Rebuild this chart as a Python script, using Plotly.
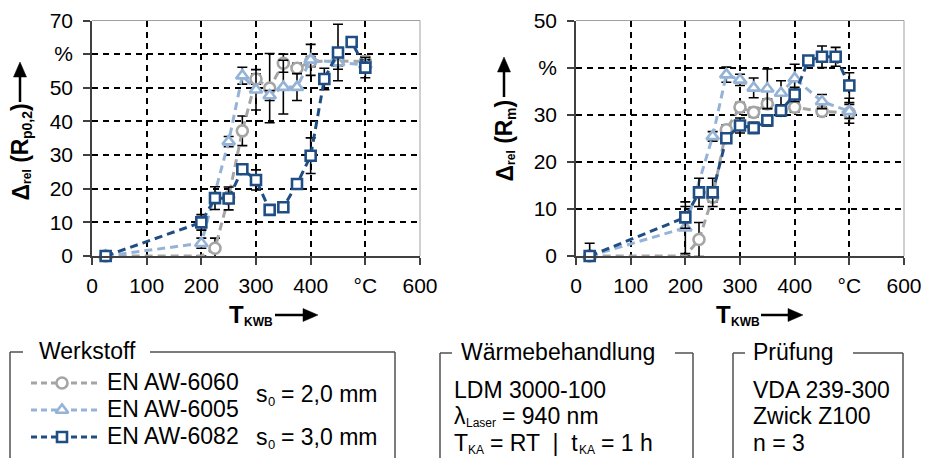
import plotly.graph_objects as go

# ---------------- data ----------------
T_6060 = [25, 200, 225, 250, 275, 300, 325, 350, 375, 400, 450, 500]
T_6005 = [25, 200, 250, 275, 300, 325, 350, 375, 400, 450, 500]
T_6082 = [25, 200, 225, 250, 275, 300, 325, 350, 375, 400, 425, 450, 475, 500]

rp_6060 = [0, 0, 2.3, 17.5, 37.2, 52.6, 49.9, 57.3, 55.8, 57.8, 58.0, 57.8]
rp_6005 = [0, 3.8, 34.0, 53.6, 49.4, 47.7, 50.2, 50.2, 58.3, 57.5, 56.8]
rp_6082 = [0, 10.0, 17.2, 17.1, 25.8, 22.6, 13.7, 14.5, 21.4, 29.8, 52.6, 60.5, 63.6, 56.0]
rp_6060_err = [0, 0, 3, 0, 4.4, 1.5, 10.3, 2.7, 1.5, 1.5, 1.5, 1.5]
rp_6005_err = [0, 1.5, 1.5, 2.5, 6, 1.5, 8, 4, 4.6, 2, 1.5]
rp_6082_err = [0, 2.3, 3.4, 3.4, 1.2, 3, 1, 1, 1, 5.3, 3.2, 8.4, 1.5, 3]

rm_6060 = [0, 0, 3.5, 12.5, 26.8, 31.6, 30.5, 32.3, 30.9, 31.6, 30.7, 30.4]
rm_6005 = [0, 6.0, 25.4, 38.5, 37.4, 35.7, 35.5, 34.6, 37.7, 32.8, 30.7]
rm_6082 = [0, 8.2, 13.5, 13.5, 25.0, 27.7, 27.2, 28.8, 30.9, 34.3, 41.5, 42.3, 42.3, 36.2]
rm_6060_err = [0, 0, 3.6, 1, 1, 1, 1, 1, 1, 1, 1, 2.2]
rm_6005_err = [0, 5.5, 1, 1.6, 1.2, 2.1, 4.2, 2.6, 3, 1.5, 1.5]
rm_6082_err = [2.7, 2.3, 3, 3, 1, 1.6, 1.2, 1.2, 1.2, 1.5, 1, 2.3, 2, 2.7]

# marker visibility for 6060 (point at 200 °C drawn without marker)
vis_6060 = [1, 0, 1, 1, 1, 1, 1, 1, 1, 1, 1, 1]

x_ticks = [0, 100, 200, 300, 400, 500, 600]
x_ticktext = ["0", "100", "200", "300", "400", "°C", "600"]
yL_ticks = [0, 10, 20, 30, 40, 50, 60, 70]
yL_ticktext = ["0", "10", "20", "30", "40", "50", "%", "70"]
yR_ticks = [0, 10, 20, 30, 40, 50]
yR_ticktext = ["0", "10", "20", "30", "%", "50"]

names = ["EN AW-6060", "EN AW-6005", "EN AW-6082"]
colors = ["#A5A5A5", "#95B3D7", "#1F4E85"]
symbols = ["circle", "triangle-up", "square"]

# ---------------- layout constants ----------------
W, H = 926, 458
FONT = "Liberation Sans, Arial, sans-serif"
def px(x):
    return x / W
def py(y):
    return 1 - y / H

fig = go.Figure()

def add_series(xs, ys, errs, i, xa, ya, opac=None):
    fig.add_trace(go.Scatter(
        x=xs, y=ys, mode="lines+markers", name=names[i], showlegend=False,
        xaxis=xa, yaxis=ya, cliponaxis=False,
        line=dict(color=colors[i], width=3, dash="8px,5px"),
        marker=dict(symbol=symbols[i], size=11 if i != 2 else 10, color="white",
                    opacity=opac if opac is not None else 1,
                    line=dict(color=colors[i], width=2.6)),
        error_y=dict(type="data", array=errs, visible=True, color="black",
                     thickness=1.6, width=5),
    ))

add_series(T_6060, rp_6060, rp_6060_err, 0, "x", "y", vis_6060)
add_series(T_6005, rp_6005, rp_6005_err, 1, "x", "y")
add_series(T_6082, rp_6082, rp_6082_err, 2, "x", "y")
add_series(T_6060, rm_6060, rm_6060_err, 0, "x2", "y2", vis_6060)
add_series(T_6005, rm_6005, rm_6005_err, 1, "x2", "y2")
add_series(T_6082, rm_6082, rm_6082_err, 2, "x2", "y2")

# legend samples in overlay pixel axis
leg_y = [383, 410, 437]
for i in range(3):
    fig.add_trace(go.Scatter(
        x=[31, 62, 99], y=[leg_y[i]] * 3, mode="lines", showlegend=False,
        xaxis="x3", yaxis="y3", hoverinfo="skip",
        line=dict(color=colors[i], width=3, dash="6px,4px")))
    fig.add_trace(go.Scatter(
        x=[62], y=[leg_y[i]], mode="markers", showlegend=False,
        xaxis="x3", yaxis="y3", hoverinfo="skip",
        marker=dict(symbol=symbols[i], size=11 if i != 2 else 10, color="white",
                    line=dict(color=colors[i], width=2.6))))

AX_COL = "#404040"
common_x = dict(range=[0, 600], tickvals=x_ticks, ticktext=x_ticktext,
                showgrid=True, gridcolor="black", gridwidth=1.5, griddash="6px,5px",
                showline=True, linecolor=AX_COL, linewidth=1.5,
                ticks="outside", ticklen=7, tickcolor=AX_COL, tickwidth=1.5,
                zeroline=False, tickfont=dict(family=FONT, size=21, color="black"),
                ticklabelstandoff=3)
common_y = dict(showgrid=True, gridcolor="black", gridwidth=1.5, griddash="6px,5px",
                showline=True, linecolor=AX_COL, linewidth=1.5,
                ticks="outside", ticklen=7, tickcolor=AX_COL, tickwidth=1.5,
                zeroline=False, tickfont=dict(family=FONT, size=21, color="black"),
                ticklabelstandoff=6)

L_x0, L_x1 = 92, 420
R_x0, R_x1 = 576, 904
Y_top, Y_bot = 20.5, 256

fig.update_layout(
    width=W, height=H, margin=dict(l=0, r=0, t=0, b=0, autoexpand=False),
    paper_bgcolor="white", plot_bgcolor="rgba(0,0,0,0)",
    font=dict(family=FONT, size=20, color="black"),
    xaxis=dict(domain=[px(L_x0), px(L_x1)], anchor="y", **common_x),
    yaxis=dict(domain=[py(Y_bot), py(Y_top)], anchor="x", range=[0, 70],
               tickvals=yL_ticks, ticktext=yL_ticktext, **common_y),
    xaxis2=dict(domain=[px(R_x0), px(R_x1)], anchor="y2", **common_x),
    yaxis2=dict(domain=[py(Y_bot), py(Y_top)], anchor="x2", range=[0, 50],
                tickvals=yR_ticks, ticktext=yR_ticktext, **common_y),
    xaxis3=dict(domain=[0, 1], range=[0, W], visible=False, anchor="y3"),
    yaxis3=dict(domain=[0, 1], range=[H, 0], visible=False, anchor="x3"),
)

shapes = []
def frame(x0, x1):
    shapes.append(dict(type="line", xref="x3", yref="y3", x0=x0, x1=x1, y0=Y_top, y1=Y_top,
                       line=dict(color="#A0A0A0", width=1), layer="below"))
    shapes.append(dict(type="line", xref="x3", yref="y3", x0=x1, x1=x1, y0=Y_top, y1=Y_bot,
                       line=dict(color="#A0A0A0", width=1), layer="below"))
frame(L_x0, L_x1)
frame(R_x0, R_x1)

BOX_COL = "#505050"
def hline(x0, x1, y, col=BOX_COL, w=1.5):
    shapes.append(dict(type="line", xref="x3", yref="y3", x0=x0, x1=x1, y0=y, y1=y,
                       line=dict(color=col, width=w)))
def vline(x, y0, y1, col=BOX_COL, w=1.5):
    shapes.append(dict(type="line", xref="x3", yref="y3", x0=x, x1=x, y0=y0, y1=y1,
                       line=dict(color=col, width=w)))

# box 1
hline(10, 23, 352); hline(150, 395, 352); vline(10, 352, 470); vline(395, 352, 470)
# box 2
hline(440, 452, 353); hline(675, 693, 353); vline(440, 353, 470); vline(693, 353, 470)
# box 3
hline(733, 745, 353); hline(853, 903, 353); vline(733, 353, 470); vline(903, 353, 470)

# arrows (line + filled head)
HEAD_L, HEAD_W = 15, 6.5
def arrow_right(x0, x1, y):
    hline(x0, x1 - HEAD_L + 1, y, "black", 2.5)
    shapes.append(dict(type="path", xref="x3", yref="y3",
                       path="M %f,%f L %f,%f L %f,%f Z" % (x1, y, x1 - HEAD_L, y - HEAD_W, x1 - HEAD_L, y + HEAD_W),
                       fillcolor="black", line=dict(color="black", width=0.5)))
def arrow_up(x, y0, y1):
    vline(x, y0, y1 + HEAD_L - 1, "black", 2.5)
    shapes.append(dict(type="path", xref="x3", yref="y3",
                       path="M %f,%f L %f,%f L %f,%f Z" % (x, y1, x - HEAD_W, y1 + HEAD_L, x + HEAD_W, y1 + HEAD_L),
                       fillcolor="black", line=dict(color="black", width=0.5)))
arrow_right(275, 318, 315)
arrow_right(761, 803, 315)
arrow_up(20, 102, 62)
arrow_up(504, 97, 57)

anns = []
def text(x, y, s, size=23, xanchor="left", yanchor="middle", angle=0, bold=False):
    if bold:
        s = "<b>" + s + "</b>"
    anns.append(dict(xref="x3", yref="y3", x=x, y=y, text=s, showarrow=False,
                     xanchor=xanchor, yanchor=yanchor, textangle=angle,
                     font=dict(family=FONT, size=size, color="black")))

# Arial / Liberation Sans advance widths (em)
REG = {' ': .278, 's': .5, '=': .584, ',': .278, 'm': .833, 'λ': .5, 'T': .611,
       'R': .722, '|': .26, 't': .278, 'h': .556, 'L': .556, 'a': .556, 'e': .556,
       'r': .333, 'K': .667, 'A': .667}
BOLD = {' ': .278, 'Δ': .722, 'r': .389, 'e': .556, 'l': .278, '(': .333, ')': .333,
        'R': .722, 'p': .611, ',': .278, 'm': .889, 'T': .611, 'K': .722, 'W': .944, 'B': .722}
def width(s, size, bold):
    tab = BOLD if bold else REG
    return sum(tab.get(c, .556) for c in s) * size

def rich(x, y, parts, bold=False, vertical=False, sub_off=7):
    """parts: (text, size, is_sub, pregap_px)"""
    cur = x if not vertical else y
    for (s, size, is_sub, gap) in parts:
        cur += gap if not vertical else -gap
        off = sub_off if is_sub else 0
        if not vertical:
            text(cur, y + off, s, size=size, bold=bold)
            cur += width(s, size, bold)
        else:
            text(x + off, cur, s, size=size, bold=bold, xanchor="center", yanchor="bottom", angle=-90)
            cur -= width(s, size, bold)

# box texts
text(37, 351, "Werkstoff")
for i in range(3):
    text(105, leg_y[i] - 1, names[i])
sp23 = 0.278 * 23
rich(254, 394, [("s", 23, False, 0), ("0", 13, True, 0), ("= 2,0 mm", 23, False, sp23)])
rich(254, 437, [("s", 23, False, 0), ("0", 13, True, 0), ("= 3,0 mm", 23, False, sp23)])
text(459, 352, "Wärmebehandlung")
text(452, 390, "LDM 3000-100")
rich(452, 416, [("λ", 23, False, 0), ("Laser", 12, True, 0), ("= 940 nm", 23, False, sp23)])
rich(452, 443, [("T", 23, False, 0), ("KA", 12, True, 0), ("= RT  |  t", 23, False, sp23),
                ("KA", 12, True, 0), ("= 1 h", 23, False, sp23)])
text(751, 352, "Prüfung")
text(751, 390, "VDA 239-300")
text(751, 416, "Zwick Z100")
text(751, 443, "n = 3")

# axis titles
rich(227, 314, [("T", 24, False, 0), ("KWB", 12, True, 0)], bold=True, sub_off=8)
rich(714, 314, [("T", 24, False, 0), ("KWB", 12, True, 0)], bold=True, sub_off=8)
sp23b = 0.278 * 23
rich(20, 203, [("Δ", 23, False, 0), ("rel", 12, True, 0), ("(R", 23, False, sp23b),
               ("p0,2", 14, True, 0), (")", 23, False, 0)], bold=True, vertical=True)
rich(504, 184, [("Δ", 23, False, 0), ("rel", 12, True, 0), ("(R", 23, False, sp23b),
                ("m", 14, True, 0), (")", 23, False, 0)], bold=True, vertical=True)

fig.update_layout(shapes=shapes, annotations=anns)
fig.write_html("out.html")
